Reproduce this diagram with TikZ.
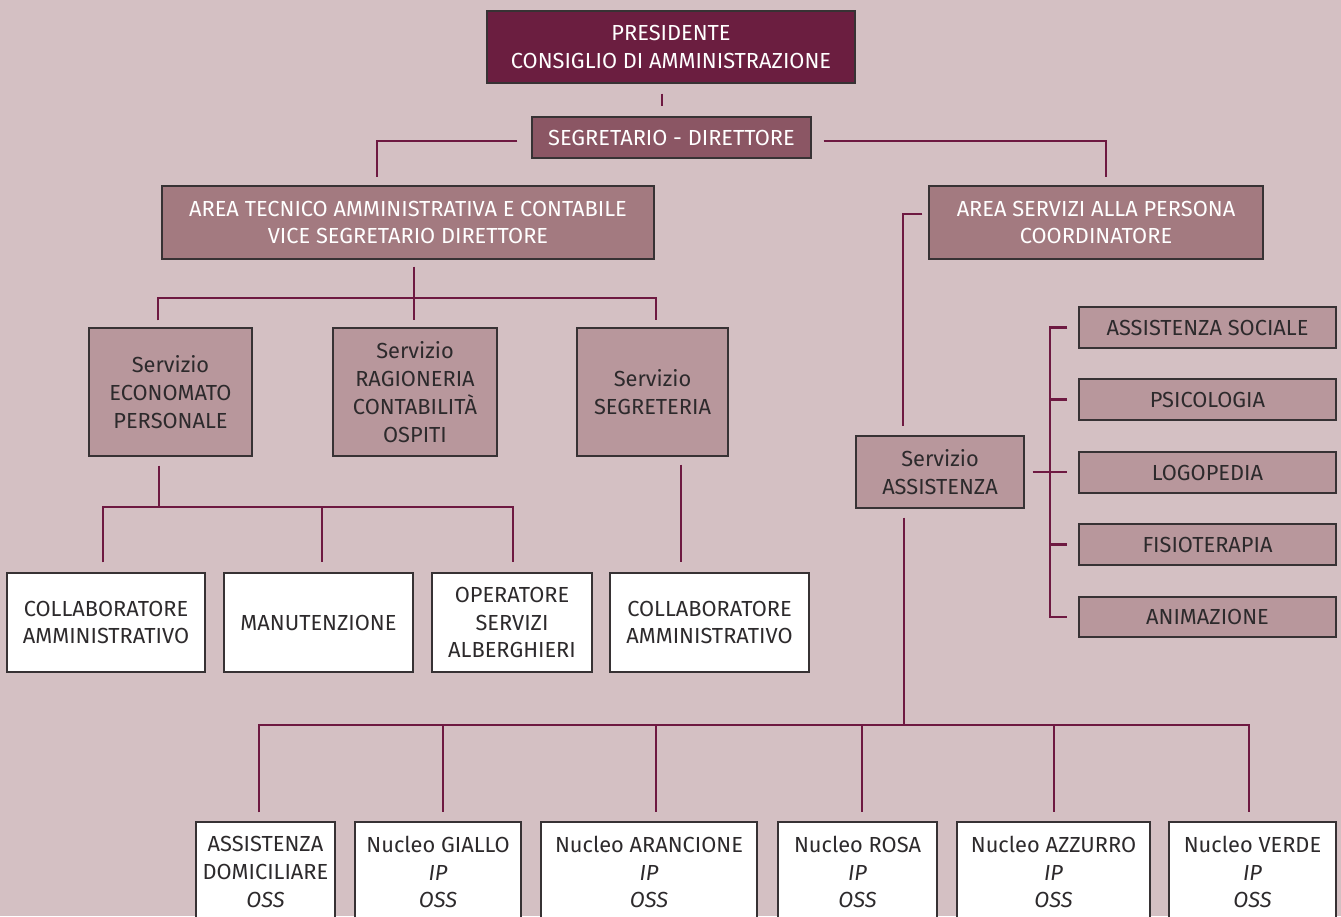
\documentclass[tikz,border=0pt]{standalone}
\usepackage{fontspec}
\setmainfont{Fira Sans}
\usetikzlibrary{calc}
\definecolor{bg}{RGB}{212,192,195}
\definecolor{cA}{RGB}{107,30,64}
\definecolor{cB}{RGB}{139,86,100}
\definecolor{cC}{RGB}{163,122,128}
\definecolor{cD}{RGB}{184,151,156}
\definecolor{ln}{RGB}{110,25,65}
\definecolor{txt}{RGB}{45,42,44}
\definecolor{bd}{RGB}{55,50,52}
\newcommand\mybox[7]{\node[#1, minimum width={(#5-#3)*1pt}, minimum height={(#6-#4)*1pt}] (#2) at ({(#3+#5)/2},{(#4+#6)/2}) {#7};}
\begin{document}
\begin{tikzpicture}[x=1pt,y=-1pt,
  box/.style={draw=bd, line width=1.1pt, inner sep=0pt, align=center, font=\fontsize{21.8}{27.8}\selectfont},
  lvA/.style={box, fill=cA, text=white},
  lvB/.style={box, fill=cB, text=white},
  lvC/.style={box, fill=cC, text=white},
  lvD/.style={box, fill=cD, text=txt},
  lvW/.style={box, fill=white, text=txt},
  conn/.style={draw=ln, line width=2.4pt}]
\fill[bg] (0,0) rectangle (1341,916);
\useasboundingbox (0,0) rectangle (1341,916);

\mybox{lvA}{pres}{487}{11}{855}{83}{PRESIDENTE\\CONSIGLIO DI AMMINISTRAZIONE}
\mybox{lvB}{seg}{532}{117}{811}{158}{SEGRETARIO - DIRETTORE}
\mybox{lvC}{atec}{162}{186}{654}{259}{AREA TECNICO AMMINISTRATIVA E CONTABILE\\VICE SEGRETARIO DIRETTORE}
\mybox{lvC}{aserv}{929}{186}{1263}{259}{AREA SERVIZI ALLA PERSONA\\COORDINATORE}
\mybox{lvD}{econ}{89}{328}{252}{456}{Servizio\\ECONOMATO\\PERSONALE}
\mybox{lvD}{ragi}{333}{328}{497}{456}{Servizio\\RAGIONERIA\\CONTABILITÀ\\OSPITI}
\mybox{lvD}{segr}{577}{328}{728}{456}{Servizio\\SEGRETERIA}
\mybox{lvW}{col1}{7}{573}{205}{672}{COLLABORATORE\\AMMINISTRATIVO}
\mybox{lvW}{manu}{224}{573}{413}{672}{MANUTENZIONE}
\mybox{lvW}{oper}{432}{573}{592}{672}{OPERATORE\\SERVIZI\\ALBERGHIERI}
\mybox{lvW}{col2}{610}{573}{809}{672}{COLLABORATORE\\AMMINISTRATIVO}
\mybox{lvD}{sa}{856}{436}{1024}{508}{Servizio\\ASSISTENZA}
\mybox{lvD}{r1}{1079}{307}{1336}{348}{ASSISTENZA SOCIALE}
\mybox{lvD}{r2}{1079}{379}{1336}{420}{PSICOLOGIA}
\mybox{lvD}{r3}{1079}{452}{1336}{493}{LOGOPEDIA}
\mybox{lvD}{r4}{1079}{524}{1336}{565}{FISIOTERAPIA}
\mybox{lvD}{r5}{1079}{597}{1336}{637}{ANIMAZIONE}
\mybox{lvW}{n1}{196}{822}{335}{922}{ASSISTENZA\\DOMICILIARE\\\textit{OSS}}
\mybox{lvW}{n2}{355}{822}{521}{922}{Nucleo GIALLO\\\textit{IP}\\\textit{OSS}}
\mybox{lvW}{n3}{541}{822}{757}{922}{Nucleo ARANCIONE\\\textit{IP}\\\textit{OSS}}
\mybox{lvW}{n4}{778}{822}{937}{922}{Nucleo ROSA\\\textit{IP}\\\textit{OSS}}
\mybox{lvW}{n5}{957}{822}{1150}{922}{Nucleo AZZURRO\\\textit{IP}\\\textit{OSS}}
\mybox{lvW}{n6}{1169}{822}{1336}{922}{Nucleo VERDE\\\textit{IP}\\\textit{OSS}}

% top
\coordinate (kStub) at (662,0);
\draw[conn, shorten <=10pt, shorten >=10pt] (pres.south -| kStub) -- (seg.north -| kStub);
\coordinate (kL) at (377,141);
\coordinate (kR) at (1106,141);
\draw[conn, shorten <=14pt, shorten >=8pt] (seg.west |- kL) -- (kL) -- (kL |- atec.north);
\draw[conn, shorten <=12pt, shorten >=8pt] (seg.east |- kR) -- (kR) -- (kR |- aserv.north);
% area tecnico
\coordinate (kA) at (414,298);
\coordinate (kA1) at (158,298);
\coordinate (kA3) at (656,298);
\draw[conn, shorten <=7pt] (atec.south -| kA) -- (kA);
\draw[conn, shorten <=7pt, shorten >=7pt] (kA1 |- econ.north) -- (kA1) -- (kA3) -- (kA3 |- segr.north);
\draw[conn, shorten >=7pt] (kA) -- (kA |- ragi.north);
% economato
\coordinate (kE) at (159,507);
\coordinate (kE1) at (103,507);
\coordinate (kE2) at (322,507);
\coordinate (kE3) at (513,507);
\draw[conn, shorten <=9pt] (econ.south -| kE) -- (kE);
\draw[conn, shorten <=10pt, shorten >=10pt] (kE1 |- col1.north) -- (kE1) -- (kE3) -- (kE3 |- oper.north);
\draw[conn, shorten >=10pt] (kE2) -- (kE2 |- manu.north);
% segreteria
\coordinate (kS) at (681,0);
\draw[conn, shorten <=8pt, shorten >=10pt] (segr.south -| kS) -- (col2.north -| kS);
% area servizi
\coordinate (kP) at (903,214);
\draw[conn, shorten <=6pt, shorten >=9pt] (aserv.west |- kP) -- (kP) -- (kP |- sa.north);
% bracket right
\coordinate (kB) at (1050,0);
\draw[conn, shorten <=8pt, shorten >=11pt] (sa.east) -- (sa.east -| r3.west);
\draw[conn, shorten <=11pt, shorten >=11pt] (r1.west) -- (kB |- r1.west) -- (kB |- r5.west) -- (r5.west);
\foreach \r in {r2,r4} \draw[conn, shorten >=11pt] (kB |- \r.west) -- (\r.west);
% assistenza down
\coordinate (kD) at (904,725);
\draw[conn, shorten <=9pt] (sa.south -| kD) -- (kD);
\coordinate (kN1) at (259,725);
\coordinate (kN2) at (443,725);
\coordinate (kN3) at (656,725);
\coordinate (kN4) at (862,725);
\coordinate (kN5) at (1054,725);
\coordinate (kN6) at (1249,725);
\draw[conn, shorten <=9pt, shorten >=9pt] (kN1 |- n1.north) -- (kN1) -- (kN6) -- (kN6 |- n6.north);
\draw[conn, shorten >=9pt] (kN2) -- (kN2 |- n2.north);
\draw[conn, shorten >=9pt] (kN3) -- (kN3 |- n3.north);
\draw[conn, shorten >=9pt] (kN4) -- (kN4 |- n4.north);
\draw[conn, shorten >=9pt] (kN5) -- (kN5 |- n5.north);
\end{tikzpicture}
\end{document}
